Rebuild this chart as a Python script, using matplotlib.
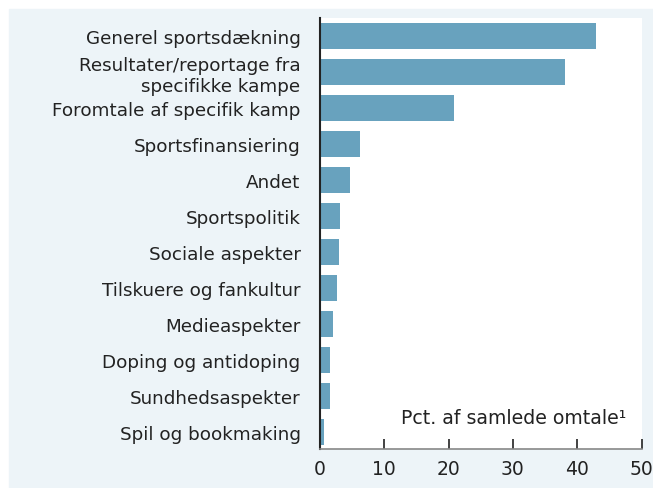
import matplotlib.pyplot as plt
from matplotlib.patches import Rectangle

categories = ["Generel sportsdækning", "Resultater/reportage fra\nspecifikke kampe",
              "Foromtale af specifik kamp", "Sportsfinansiering", "Andet",
              "Sportspolitik", "Sociale aspekter", "Tilskuere og fankultur",
              "Medieaspekter", "Doping og antidoping", "Sundhedsaspekter",
              "Spil og bookmaking"]
values = [42.9, 38.1, 20.8, 6.2, 4.6, 3.1, 2.9, 2.6, 2.0, 1.5, 1.5, 0.6]
xticks = [0, 10, 20, 30, 40, 50]

plt.rcParams["font.family"] = ["DejaVu Sans"]

fig = plt.figure(figsize=(6.53, 4.89), dpi=100)
fig.patch.set_facecolor("white")
# light blue panel behind everything
fig.add_artist(Rectangle((9 / 653, 0), 1, (489 - 10) / 489,
                         transform=fig.transFigure, color="#edf4f8", zorder=-1))

ax = fig.add_axes([320 / 653, 39 / 489, 321.5 / 653, 431 / 489])
ax.set_zorder(1)
ax.set_facecolor("white")

ypos = list(range(len(categories)))
ax.barh(ypos, values, height=0.72, color="#68a2be")

ax.set_xlim(0, 50)
ax.set_ylim(11.47, -0.5)
ax.set_xticks(xticks)
ax.set_xticklabels([str(t) for t in xticks], fontsize=13.5, color="#222222")
ax.set_yticks(ypos)
ax.set_yticklabels(categories, fontsize=13.2, linespacing=1.2, color="#222222")
ax.tick_params(axis="y", length=0, pad=14)
ax.tick_params(axis="x", direction="in", length=7, width=1.2, color="#222222", pad=7)

for s in ["top", "right"]:
    ax.spines[s].set_visible(False)
ax.spines["left"].set_color("#222222")
ax.spines["left"].set_linewidth(1.5)
ax.spines["bottom"].set_color("#888888")
ax.spines["bottom"].set_linewidth(1.2)

ax.text(47.7, 10.6, "Pct. af samlede omtale\u00b9", ha="right", va="center",
        fontsize=13.6, color="#222222")

fig.savefig("out.png", dpi=100)
